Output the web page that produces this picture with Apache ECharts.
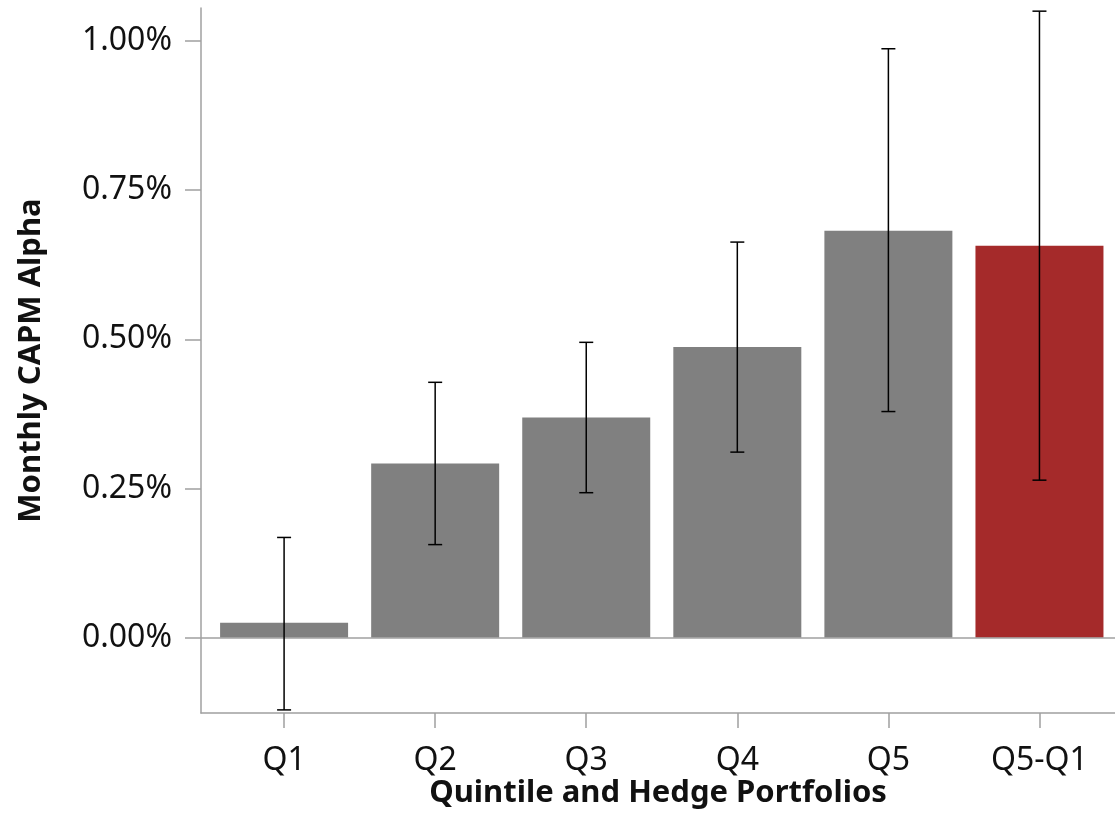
<!DOCTYPE html>
<html>
<head>
<meta charset="utf-8">
<script src="https://cdn.jsdelivr.net/npm/echarts@6/dist/echarts.min.js"></script>
<style>html,body{margin:0;padding:0;background:#fff;}#c{width:1115px;height:838px;}</style>
</head>
<body>
<div id="c"></div>
<script>
const categories = ['Q1', 'Q2', 'Q3', 'Q4', 'Q5', 'Q5-Q1'];
const alphaValues = [0.025, 0.292, 0.369, 0.487, 0.682, 0.657];
const errLower = [-0.121, 0.156, 0.243, 0.311, 0.379, 0.264];
const errUpper = [0.168, 0.428, 0.495, 0.663, 0.987, 1.050];
const yTicks = [0, 0.25, 0.5, 0.75, 1.0];

const GRAY = '#808080', RED = '#A52A2A', AXIS = '#a0a0a0';
const FONT = 'Noto Sans';

const barData = alphaValues.map((v, i) => ({
  value: [i, v],
  itemStyle: { color: i === categories.length - 1 ? RED : GRAY }
}));
const errData = categories.map((c, i) => [i, errLower[i], errUpper[i]]);

const chart = echarts.init(document.getElementById('c'));
chart.setOption({
  animation: false,
  grid: { left: 201, right: 0, top: 8, bottom: 125, containLabel: false, outerBoundsMode: 'none' },
  xAxis: {
    type: 'value', min: -0.55, max: 5.5,
    name: 'Quintile and Hedge Portfolios', nameLocation: 'middle', nameGap: 65, nameMoveOverlap: false,
    nameTextStyle: { fontFamily: FONT, fontWeight: 'bold', fontSize: 31, color: '#111' },
    axisLine: { show: true, onZero: false, lineStyle: { color: AXIS, width: 1.5 } },
    axisTick: { show: true, length: 15, customValues: categories.map((c, i) => i), lineStyle: { color: AXIS, width: 1.5 } },
    axisLabel: { customValues: categories.map((c, i) => i), formatter: v => categories[Math.round(v)], margin: 32,
      fontFamily: FONT, fontSize: 32, color: '#111' },
    splitLine: { show: false }
  },
  yAxis: {
    type: 'value', min: -0.1262, max: 1.0553,
    name: 'Monthly CAPM Alpha', nameLocation: 'middle', nameGap: 154, nameRotate: 90, nameMoveOverlap: false,
    nameTextStyle: { fontFamily: FONT, fontWeight: 'bold', fontSize: 31, color: '#111' },
    axisLine: { show: true, onZero: false, lineStyle: { color: AXIS, width: 1.5 } },
    axisTick: { show: true, length: 16, customValues: yTicks, lineStyle: { color: AXIS, width: 1.5 } },
    axisLabel: { customValues: yTicks, formatter: v => v.toFixed(2) + '%', margin: 29,
      fontFamily: FONT, fontSize: 32, color: '#111' },
    splitLine: { show: false }
  },
  series: [
    {
      type: 'bar', data: barData, barWidth: 128,
      markLine: {
        silent: true, symbol: 'none', label: { show: false },
        lineStyle: { color: AXIS, width: 1.5, type: 'solid' },
        data: [{ yAxis: 0 }]
      }
    },
    {
      type: 'custom', data: errData, encode: { x: 0, y: [1, 2] }, z: 10,
      renderItem: function (params, api) {
        const x = api.value(0);
        const lo = api.coord([x, api.value(1)]);
        const hi = api.coord([x, api.value(2)]);
        const hw = 7;
        const st = { stroke: '#000', lineWidth: 1.5 };
        return {
          type: 'group',
          children: [
            { type: 'line', shape: { x1: lo[0], y1: lo[1], x2: hi[0], y2: hi[1] }, style: st },
            { type: 'line', shape: { x1: lo[0] - hw, y1: lo[1], x2: lo[0] + hw, y2: lo[1] }, style: st },
            { type: 'line', shape: { x1: hi[0] - hw, y1: hi[1], x2: hi[0] + hw, y2: hi[1] }, style: st }
          ]
        };
      }
    }
  ]
});
</script>
</body>
</html>
